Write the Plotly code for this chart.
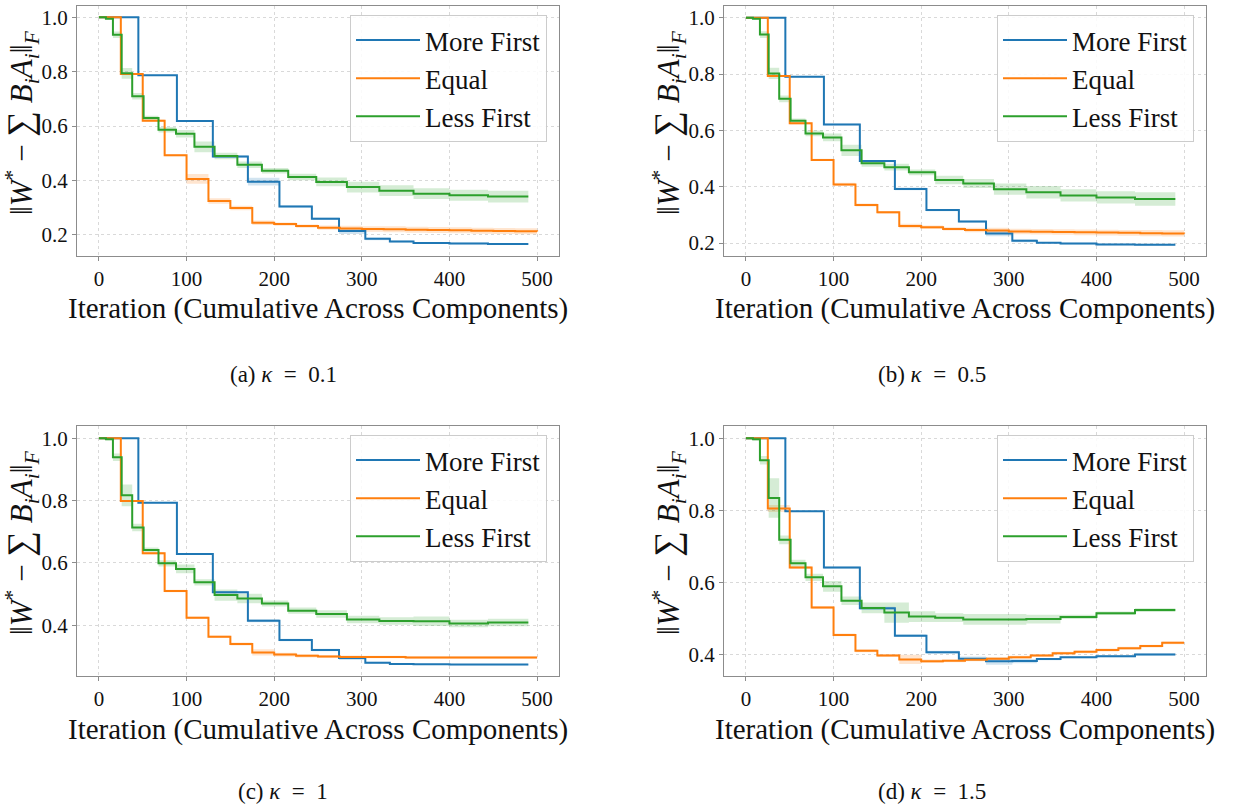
import plotly.graph_objects as go

# ---------------- data ----------------
X_MORE = [0, 45, 89, 130, 170, 206, 243, 274, 304, 332, 359, 400, 444, 490]
X_EQUAL = [0, 25, 50, 75, 100, 125, 150, 175, 200, 225, 250, 275, 300, 325, 350, 375, 400, 425, 450, 475, 500]
X_LESS = [0, 8, 16, 26, 38, 51, 68, 88, 109, 132, 158, 186, 216, 248, 283, 320, 359, 400, 444, 490]

A_MORE = [1.0, 0.787, 0.619, 0.488, 0.396, 0.305, 0.260, 0.2145, 0.186, 0.176, 0.171, 0.169, 0.167, 0.167]
A_MORE_SD = [0, 0.002, 0.003, 0.004, 0.014, 0.004, 0.004, 0.011, 0.005, 0.004, 0.003, 0.003, 0.003, 0.003]
B_MORE = [1.0, 0.790, 0.621, 0.491, 0.392, 0.317, 0.276, 0.234, 0.208, 0.201, 0.198, 0.195, 0.194, 0.194]
B_MORE_SD = [0, 0.002, 0.003, 0.004, 0.005, 0.004, 0.004, 0.010, 0.005, 0.003, 0.003, 0.003, 0.003, 0.003]
C_MORE = [1.0, 0.793, 0.629, 0.506, 0.415, 0.353, 0.321, 0.295, 0.280, 0.276, 0.275, 0.274, 0.274, 0.274]
C_MORE_SD = [0, 0.002, 0.003, 0.004, 0.005, 0.004, 0.004, 0.006, 0.003, 0.002, 0.002, 0.002, 0.002, 0.002]
D_MORE = [1.0, 0.797, 0.641, 0.528, 0.452, 0.406, 0.388, 0.381, 0.3815, 0.387, 0.392, 0.395, 0.400, 0.400]
D_MORE_SD = [0, 0.002, 0.003, 0.004, 0.004, 0.004, 0.006, 0.010, 0.006, 0.003, 0.003, 0.003, 0.003, 0.003]

A_EQUAL = [1.0, 0.792, 0.620, 0.493, 0.406, 0.325, 0.299, 0.245, 0.240, 0.233, 0.227, 0.224, 0.222,
           0.221, 0.219, 0.218, 0.217, 0.216, 0.215, 0.214, 0.213]
A_EQUAL_SD = [0, 0.003, 0.004, 0.004, 0.018, 0.010, 0.008, 0.008, 0.006, 0.006, 0.008, 0.010, 0.010,
              0.011, 0.011, 0.011, 0.011, 0.011, 0.011, 0.011, 0.011]
B_EQUAL = [1.0, 0.793, 0.625, 0.495, 0.408, 0.335, 0.309, 0.260, 0.256, 0.250, 0.246, 0.244, 0.241,
           0.240, 0.239, 0.238, 0.237, 0.236, 0.235, 0.234, 0.233]
B_EQUAL_SD = [0, 0.003, 0.004, 0.004, 0.006, 0.005, 0.005, 0.008, 0.006, 0.006, 0.008, 0.010, 0.010,
              0.010, 0.010, 0.010, 0.010, 0.010, 0.011, 0.011, 0.011]
C_EQUAL = [1.0, 0.799, 0.631, 0.510, 0.424, 0.363, 0.340, 0.313, 0.306, 0.302, 0.300, 0.298, 0.298,
           0.298, 0.297, 0.297, 0.297, 0.297, 0.297, 0.297, 0.297]
C_EQUAL_SD = [0, 0.003, 0.004, 0.004, 0.004, 0.004, 0.005, 0.010, 0.006, 0.005, 0.005, 0.005, 0.004,
              0.004, 0.004, 0.004, 0.004, 0.004, 0.004, 0.004, 0.004]
D_EQUAL = [1.0, 0.805, 0.641, 0.530, 0.454, 0.410, 0.397, 0.386, 0.381, 0.382, 0.385, 0.388, 0.392,
           0.397, 0.403, 0.407, 0.412, 0.417, 0.423, 0.432, 0.432]
D_EQUAL_SD = [0, 0.010, 0.004, 0.004, 0.004, 0.004, 0.004, 0.013, 0.005, 0.004, 0.004, 0.004, 0.004,
              0.004, 0.004, 0.004, 0.004, 0.004, 0.004, 0.004, 0.004]

A_LESS = [1.0, 0.995, 0.936, 0.794, 0.710, 0.630, 0.587, 0.572, 0.524, 0.490, 0.458, 0.436, 0.413,
          0.395, 0.376, 0.363, 0.352, 0.346, 0.341, 0.341]
A_LESS_SD = [0, 0.003, 0.012, 0.020, 0.012, 0.008, 0.010, 0.014, 0.020, 0.012, 0.012, 0.010, 0.012,
             0.016, 0.020, 0.020, 0.020, 0.020, 0.022, 0.022]
B_LESS = [1.0, 0.996, 0.940, 0.802, 0.712, 0.634, 0.589, 0.575, 0.529, 0.483, 0.469, 0.451, 0.424,
          0.411, 0.391, 0.380, 0.369, 0.362, 0.356, 0.356]
B_LESS_SD = [0, 0.003, 0.012, 0.020, 0.012, 0.008, 0.010, 0.014, 0.020, 0.012, 0.012, 0.010, 0.015,
             0.016, 0.020, 0.022, 0.022, 0.022, 0.024, 0.024]
C_LESS = [1.0, 0.997, 0.939, 0.817, 0.714, 0.642, 0.599, 0.581, 0.538, 0.497, 0.486, 0.470, 0.447,
          0.436, 0.419, 0.414, 0.413, 0.406, 0.409, 0.409]
C_LESS_SD = [0, 0.003, 0.012, 0.035, 0.012, 0.008, 0.010, 0.014, 0.010, 0.018, 0.015, 0.010, 0.010,
             0.012, 0.012, 0.012, 0.015, 0.012, 0.012, 0.012]
D_LESS = [1.0, 0.997, 0.939, 0.834, 0.718, 0.653, 0.614, 0.589, 0.549, 0.529, 0.516, 0.505, 0.502,
          0.497, 0.497, 0.498, 0.504, 0.514, 0.523, 0.523]
D_LESS_SD = [0, 0.003, 0.012, 0.055, 0.012, 0.010, 0.010, 0.015, 0.012, 0.015, 0.028, 0.015, 0.012,
             0.015, 0.015, 0.012, 0.006, 0.005, 0.005, 0.005]

SERIES_NAMES = ["More First", "Equal", "Less First"]
CAPTIONS = ["(a) <i>κ</i>\u2002=\u20020.1", "(b) <i>κ</i>\u2002=\u20020.5",
            "(c) <i>κ</i>\u2002=\u20021", "(d) <i>κ</i>\u2002=\u20021.5"]
X_TICKS = [0, 100, 200, 300, 400, 500]
Y_TICKS_TOP = [0.2, 0.4, 0.6, 0.8, 1.0]
Y_TICKS_BOTTOM = [0.4, 0.6, 0.8, 1.0]

# ---------------- styling ----------------
W, H = 1235, 804
FONT = "Liberation Serif"
COLORS = ["#1f77b4", "#ff7f0e", "#2ca02c"]
FILLS = ["rgba(31,119,180,0.2)", "rgba(255,127,14,0.2)", "rgba(44,160,44,0.2)"]
FRAME = "#8c8c8c"
YTITLE = ("‖<i>W</i><sup>*</sup> − <span style='font-size:36px'>∑</span> "
          "<i>B<sub>i</sub>A<sub>i</sub></i>‖<sub><i>F</i></sub>")

panels = [
    dict(data=[(X_MORE, A_MORE, A_MORE_SD), (X_EQUAL, A_EQUAL, A_EQUAL_SD), (X_LESS, A_LESS, A_LESS_SD)],
         xpx=(77, 559), ypx=(6, 256), yr=(0.1228, 1.0415), yt=Y_TICKS_TOP, cap=(283, 374)),
    dict(data=[(X_MORE, B_MORE, B_MORE_SD), (X_EQUAL, B_EQUAL, B_EQUAL_SD), (X_LESS, B_LESS, B_LESS_SD)],
         xpx=(724, 1206), ypx=(6, 256), yr=(0.1539, 1.0414), yt=Y_TICKS_TOP, cap=(932, 374)),
    dict(data=[(X_MORE, C_MORE, C_MORE_SD), (X_EQUAL, C_EQUAL, C_EQUAL_SD), (X_LESS, C_LESS, C_LESS_SD)],
         xpx=(77, 559), ypx=(426, 676), yr=(0.2374, 1.0395), yt=Y_TICKS_BOTTOM, cap=(283, 791)),
    dict(data=[(X_MORE, D_MORE, D_MORE_SD), (X_EQUAL, D_EQUAL, D_EQUAL_SD), (X_LESS, D_LESS, D_LESS_SD)],
         xpx=(724, 1206), ypx=(426, 676), yr=(0.34, 1.034), yt=Y_TICKS_BOTTOM, cap=(932, 791)),
]

fig = go.Figure()
annotations = []
layout = {}

for p_i, p in enumerate(panels):
    suffix = "" if p_i == 0 else str(p_i + 1)
    xa, ya = "x" + suffix, "y" + suffix
    legend_name = "legend" + suffix
    for s_i, (xs, ys, sd) in enumerate(p["data"]):
        lo = [y - s for y, s in zip(ys, sd)]
        hi = [y + s for y, s in zip(ys, sd)]
        fig.add_trace(go.Scatter(x=xs, y=lo, mode="lines", line=dict(width=0, shape="hv"),
                                 xaxis=xa, yaxis=ya, showlegend=False, hoverinfo="skip",
                                 legend=legend_name))
        fig.add_trace(go.Scatter(x=xs, y=hi, mode="lines", line=dict(width=0, shape="hv"),
                                 fill="tonexty", fillcolor=FILLS[s_i],
                                 xaxis=xa, yaxis=ya, showlegend=False, hoverinfo="skip",
                                 legend=legend_name))
    for s_i, (xs, ys, sd) in enumerate(p["data"]):
        fig.add_trace(go.Scatter(x=xs, y=ys, mode="lines", name=SERIES_NAMES[s_i],
                                 line=dict(color=COLORS[s_i], width=2, shape="hv"),
                                 xaxis=xa, yaxis=ya, legend=legend_name))

    x0, x1 = p["xpx"]
    y0, y1 = p["ypx"]
    common = dict(showline=True, linecolor=FRAME, linewidth=1, mirror=True,
                  ticks="outside", ticklen=4, tickcolor=FRAME, tickwidth=1,
                  showgrid=True, gridcolor="#d9d9d9", griddash="3px,3px", gridwidth=1,
                  zeroline=False, tickfont=dict(family=FONT, size=21, color="#111"))
    layout["xaxis" + suffix] = dict(domain=[x0 / W, x1 / W], range=[-25, 525], tickvals=X_TICKS,
                                    anchor=ya, **common)
    layout["yaxis" + suffix] = dict(domain=[1 - y1 / H, 1 - y0 / H], range=list(p["yr"]),
                                    tickvals=p["yt"], ticktext=["%.1f" % v for v in p["yt"]],
                                    anchor=xa, **common)
    leg_right = x1 - 12
    layout[legend_name] = dict(x=leg_right / W, xanchor="right", y=1 - (y0 + 9) / H, yanchor="top",
                               traceorder="normal",
                               bgcolor="rgba(255,255,255,0.85)", bordercolor="#cccccc", borderwidth=1,
                               font=dict(family=FONT, size=27, color="#111"), itemwidth=64)

    # x-axis title
    annotations.append(dict(text="Iteration (Cumulative Across Components)", xref="paper", yref="paper",
                            x=(x0 + x1) / 2 / W, y=1 - (y1 + 53) / H, xanchor="center", yanchor="middle",
                            showarrow=False, font=dict(family=FONT, size=29, color="#111")))
    # y-axis title
    annotations.append(dict(text=YTITLE,
                            xref="paper", yref="paper", x=(x0 - 55) / W, y=1 - ((y0 + y1) / 2 - 8) / H,
                            xanchor="center", yanchor="middle", textangle=-90,
                            showarrow=False, font=dict(family=FONT, size=31, color="#111")))
    # caption
    annotations.append(dict(text=CAPTIONS[p_i], xref="paper", yref="paper",
                            x=p["cap"][0] / W, y=1 - p["cap"][1] / H, xanchor="center", yanchor="middle",
                            showarrow=False, font=dict(family=FONT, size=23, color="#111")))

fig.update_layout(width=W, height=H, margin=dict(l=0, r=0, t=0, b=0),
                  plot_bgcolor="white", paper_bgcolor="white",
                  annotations=annotations, **layout)

fig.write_html("out.html")
